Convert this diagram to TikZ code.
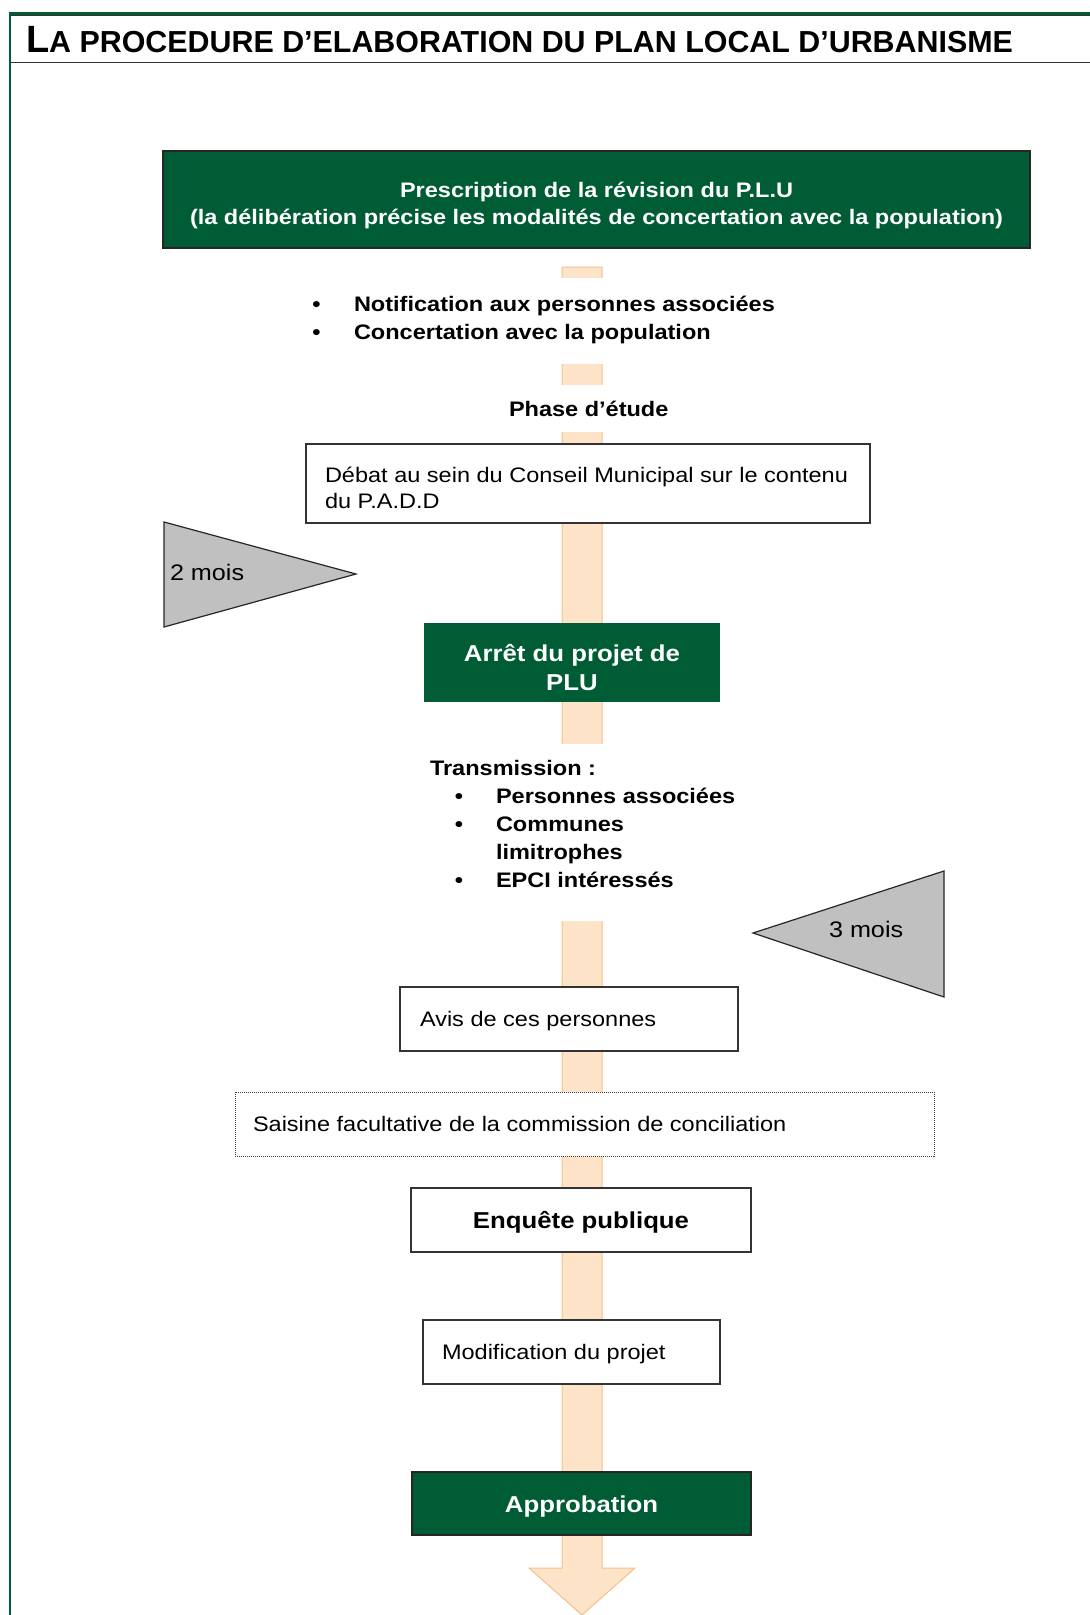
\documentclass[tikz,border=0pt]{standalone}
\usepackage{fontspec}
\setmainfont{Liberation Sans}
\newfontfamily\arx[FakeStretch=1.12]{Liberation Sans}
\usetikzlibrary{calc}
\definecolor{pgreen}{HTML}{005C34}
\definecolor{peach}{HTML}{FDE4C8}
\definecolor{peachedge}{HTML}{F5C08A}
\definecolor{trigray}{HTML}{C0C0C0}
\definecolor{rulegray}{HTML}{333333}
\begin{document}
\begin{tikzpicture}[x=1pt,y=-1pt,
  every node/.style={inner sep=0pt, outer sep=0pt},
  treg/.style={font=\arx\fontsize{21}{25}\selectfont, anchor=base west},
  tbold/.style={font=\arx\bfseries\fontsize{21}{25}\selectfont, anchor=base west},
  twhite/.style={font=\arx\bfseries\fontsize{21}{25}\selectfont, text=white, anchor=base},
  twhitebig/.style={font=\arx\bfseries\fontsize{23}{27}\selectfont, text=white, anchor=base},
  tblackbig/.style={font=\arx\bfseries\fontsize{23}{27}\selectfont, anchor=base},
  tbul/.style={font=\arx\bfseries\fontsize{21}{25}\selectfont, anchor=base},
  ttri/.style={font=\arx\fontsize{22.5}{27}\selectfont, anchor=base west},
  greenbox/.style={fill=pgreen, draw=black!85, line width=1.5, anchor=north west},
  greenplain/.style={fill=pgreen, draw=none, anchor=north west},
  whitebox/.style={fill=white, draw=black!80, line width=1.4, anchor=north west},
  dotbox/.style={fill=white, draw=black!75, line width=1, dash pattern=on 1pt off 1pt, anchor=north west},
  triangle/.style={fill=trigray, draw=black!85, line width=1.2, line join=miter}
]
\useasboundingbox (0,0) rectangle (1090,1615);
\fill[white] (0,0) rectangle (1090,1615);

% frame
\draw[rulegray, line width=0.8] (11,15.5) -- (1090,15.5);
\draw[pgreen, line width=2.6] (9,13.3) -- (1090,13.3);
\draw[pgreen, line width=2] (10,12) -- (10,1615);
\draw[rulegray, line width=1.2] (11,62.3) -- (1090,62.3);
\node[anchor=base west, font=\bfseries] (title) at (26,52)
  {\fontsize{38}{38}\selectfont L\fontsize{30.4}{30.4}\selectfont A PROCEDURE D’ELABORATION DU PLAN LOCAL D’URBANISME};

% big arrow (background)
\coordinate (atop) at (582,267);
\coordinate (atip) at (582,1615);
\draw[fill=peach, draw=peachedge, line width=1]
  ([xshift=-20pt]atop) -- ([xshift=20pt]atop) -- ([xshift=20pt,yshift=47pt]atip)
  -- ([xshift=53pt,yshift=47pt]atip) -- (atip) -- ([xshift=-53pt,yshift=47pt]atip)
  -- ([xshift=-20pt,yshift=47pt]atip) -- cycle;

% white backgrounds under free text blocks
\fill[white] (300,278) rectangle (800,364);
\fill[white] (480,385) rectangle (700,432);
\fill[white] (420,744) rectangle (740,921);

% Prescription
\node[greenbox, minimum width=867, minimum height=97] (presc) at (163,151) {};
\node[twhite] (presc1) at (596.5,197) {Prescription de la révision du P.L.U};
\node[twhite] (presc2) at (596.5,224) {(la délibération précise les modalités de concertation avec la population)};

% bullets
\node[tbul] (b1) at (316.5,311) {•};
\node[tbold] (n1) at (354,311) {Notification aux personnes associées};
\node[tbul] (b2) at (316.5,339) {•};
\node[tbold] (n2) at (354,339) {Concertation avec la population};

\node[tbold] (phase) at (509,416) {Phase d’étude};

% Débat
\node[whitebox, minimum width=564, minimum height=79] (debat) at (306,444) {};
\node[treg] (debat1) at (325,482) {Débat au sein du Conseil Municipal sur le contenu};
\node[treg] (debat2) at (325,508) {du P.A.D.D};

% 2 mois
\coordinate (t2a) at (164,522);
\coordinate (t2b) at (356,574);
\coordinate (t2c) at (164,627);
\draw[triangle] (t2a) -- (t2b) -- (t2c) -- cycle;
\node[ttri] (mois2) at (170,580) {2 mois};

% Arrêt
\node[greenplain, minimum width=296, minimum height=79] (arret) at (424,623) {};
\node[twhitebig] (arret1) at (572,661) {Arrêt du projet de};
\node[twhitebig] (arret2) at (572,690) {PLU};

% Transmission
\node[tbold] (trans) at (430,775) {Transmission :};
\node[tbul] (tb1) at (459,803) {•};
\node[tbold] (tr1) at (496,803) {Personnes associées};
\node[tbul] (tb2) at (459,831) {•};
\node[tbold] (tr2) at (496,831) {Communes};
\node[tbold] (tr2b) at (496,859) {limitrophes};
\node[tbul] (tb3) at (459,887) {•};
\node[tbold] (tr3) at (496,887) {EPCI intéressés};

% 3 mois
\coordinate (t3a) at (753,933);
\coordinate (t3b) at (944,871);
\coordinate (t3c) at (944,997);
\draw[triangle] (t3a) -- (t3b) -- (t3c) -- cycle;
\node[ttri] (mois3) at (829,937) {3 mois};

% Avis
\node[whitebox, minimum width=338, minimum height=64] (avis) at (400,987) {};
\node[treg] (avist) at (420,1026.5) {Avis de ces personnes};

% Saisine
\node[dotbox, minimum width=699, minimum height=64] (saisine) at (235,1092) {};
\node[treg] (saisinet) at (253,1131.5) {Saisine facultative de la commission de conciliation};

% Enquête
\node[whitebox, minimum width=340, minimum height=64] (enquete) at (411,1188) {};
\node[tblackbig] (enquetet) at (581,1228) {Enquête publique};

% Modification
\node[whitebox, minimum width=297, minimum height=64] (modif) at (423,1320) {};
\node[treg] (modift) at (442,1359) {Modification du projet};

% Approbation
\node[greenbox, minimum width=339, minimum height=63] (approb) at (412,1472) {};
\node[twhitebig] (approbt) at (581.5,1512) {Approbation};
\end{tikzpicture}
\end{document}
